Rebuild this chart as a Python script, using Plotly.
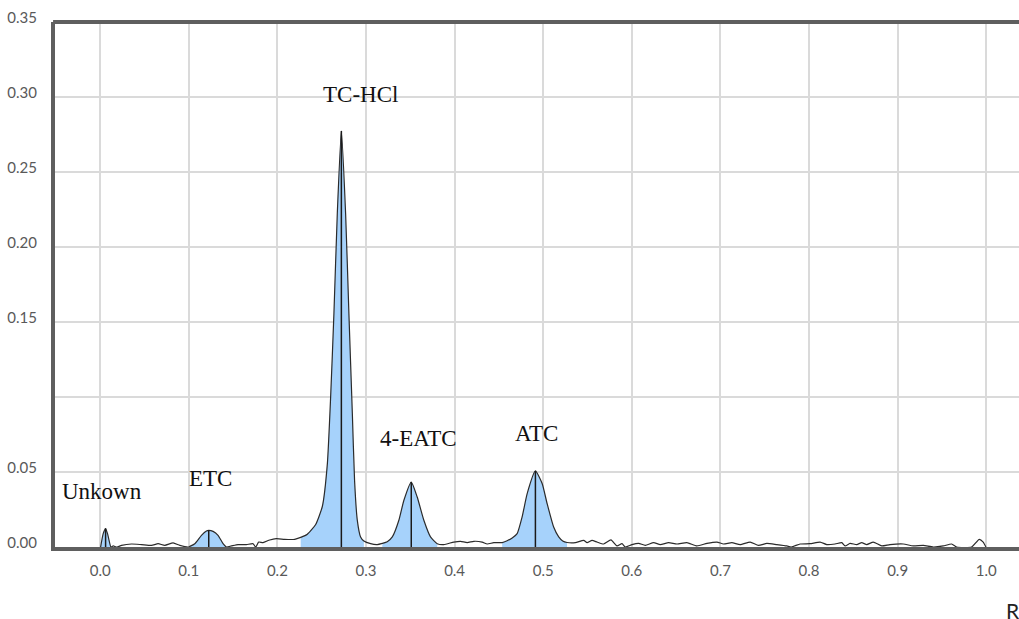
import plotly.graph_objects as go

# Densitogram trace (Rf vs. absorbance units)
rf = [0.0005, 0.0034, 0.0061, 0.0083, 0.0121, 0.0147, 0.0188, 0.0241, 0.0354, 0.0467,
      0.0579, 0.0654, 0.0729, 0.0823, 0.0899, 0.0992, 0.1011, 0.1068, 0.1143, 0.1199,
      0.1225, 0.1274, 0.1330, 0.1387, 0.1425, 0.1481, 0.1556, 0.1650, 0.1725, 0.1755,
      0.1789, 0.1838, 0.1913, 0.1988, 0.2082, 0.2195, 0.2263, 0.2338, 0.2432, 0.2507,
      0.2564, 0.2601, 0.2638, 0.2676, 0.2722, 0.2770, 0.2807, 0.2846, 0.2871, 0.2902,
      0.2939, 0.2976, 0.3052, 0.3127, 0.3184, 0.3240, 0.3297, 0.3371, 0.3427, 0.3511,
      0.3578, 0.3653, 0.3728, 0.3804, 0.3878, 0.3991, 0.4067, 0.4142, 0.4217, 0.4311,
      0.4368, 0.4442, 0.4537, 0.4593, 0.4650, 0.4706, 0.4762, 0.4819, 0.4912, 0.4988,
      0.5044, 0.5118, 0.5175, 0.5220, 0.5269, 0.5363, 0.5457, 0.5495, 0.5551, 0.5608,
      0.5682, 0.5765, 0.5833, 0.5889, 0.5927, 0.6002, 0.6077, 0.6152, 0.6246, 0.6321,
      0.6415, 0.6510, 0.6622, 0.6735, 0.6848, 0.6961, 0.7035, 0.7129, 0.7223, 0.7336,
      0.7429, 0.7524, 0.7637, 0.7750, 0.7800, 0.7900, 0.8012, 0.8125, 0.8201, 0.8294,
      0.8370, 0.8407, 0.8463, 0.8539, 0.8595, 0.8652, 0.8726, 0.8821, 0.8914, 0.9064,
      0.9177, 0.9290, 0.9403, 0.9515, 0.9610, 0.9666, 0.9835, 0.9921, 0.9966, 0.9997]
au = [0.0000, 0.0089, 0.0123, 0.0089, 0.0000, 0.0007, 0.0000, 0.0011, 0.0020, 0.0016,
      0.0011, 0.0022, 0.0011, 0.0027, 0.0011, 0.0000, 0.0004, 0.0022, 0.0078, 0.0107,
      0.0111, 0.0104, 0.0078, 0.0022, 0.0000, 0.0007, 0.0016, 0.0016, 0.0022, 0.0000,
      0.0033, 0.0029, 0.0047, 0.0056, 0.0051, 0.0051, 0.0064, 0.0085, 0.0150, 0.0270,
      0.0556, 0.1000, 0.1556, 0.2222, 0.2773, 0.2222, 0.1556, 0.0889, 0.0444, 0.0178,
      0.0067, 0.0040, 0.0022, 0.0016, 0.0024, 0.0035, 0.0067, 0.0178, 0.0310, 0.0433,
      0.0333, 0.0178, 0.0067, 0.0022, 0.0016, 0.0033, 0.0038, 0.0029, 0.0038, 0.0033,
      0.0020, 0.0029, 0.0029, 0.0042, 0.0060, 0.0089, 0.0200, 0.0356, 0.0507, 0.0423,
      0.0290, 0.0133, 0.0067, 0.0040, 0.0030, 0.0029, 0.0044, 0.0029, 0.0044, 0.0033,
      0.0020, 0.0047, 0.0007, 0.0022, 0.0000, 0.0016, 0.0024, 0.0011, 0.0029, 0.0016,
      0.0029, 0.0020, 0.0029, 0.0007, 0.0024, 0.0033, 0.0020, 0.0029, 0.0016, 0.0033,
      0.0011, 0.0024, 0.0016, 0.0007, 0.0000, 0.0020, 0.0022, 0.0033, 0.0016, 0.0020,
      0.0029, 0.0007, 0.0024, 0.0016, 0.0029, 0.0016, 0.0033, 0.0007, 0.0016, 0.0020,
      0.0007, 0.0011, 0.0000, 0.0007, 0.0020, 0.0000, 0.0000, 0.0051, 0.0033, 0.0000]

# Peaks
peak_names = ["Unkown", "ETC", "TC-HCl", "4-EATC", "ATC"]
peak_apex_rf = [0.0061, 0.1225, 0.2722, 0.3511, 0.4912]
peak_apex_au = [0.0123, 0.0111, 0.2773, 0.0433, 0.0507]
peak_start = [0.0005, 0.1011, 0.2263, 0.3184, 0.4537]
peak_end = [0.0121, 0.1425, 0.2976, 0.3804, 0.5269]
label_rf = [0.002, 0.125, 0.294, 0.359, 0.492]
label_au = [0.0367, 0.0458, 0.302, 0.0725, 0.0755]

y_tickvals = [0.00, 0.05, 0.10, 0.15, 0.20, 0.25, 0.30, 0.35]
y_ticktext = ["0.00", "0.05", "", "0.15", "0.20", "0.25", "0.30", "0.35"]

FILL = "#a6d2fb"
SHAPE = "spline"
SMOOTH = 0.5
fig = go.Figure()

for s, e in zip(peak_start, peak_end):
    xs = [x for x in rf if s <= x <= e]
    ys = [y for x, y in zip(rf, au) if s <= x <= e]
    fig.add_trace(go.Scatter(x=xs, y=ys, mode="lines", fill="tozeroy",
                             fillcolor=FILL,
                             line=dict(width=0, color=FILL, shape=SHAPE, smoothing=SMOOTH),
                             hoverinfo="skip", showlegend=False))

fig.add_trace(go.Scatter(x=rf, y=au, mode="lines",
                         line=dict(color="#2b2b2b", width=1.2, shape=SHAPE, smoothing=SMOOTH),
                         showlegend=False))

vx, vy = [], []
for x, y in zip(peak_apex_rf, peak_apex_au):
    vx += [x, x, None]
    vy += [0, y, None]
fig.add_trace(go.Scatter(x=vx, y=vy, mode="lines",
                         line=dict(color="#1a1a1a", width=1.5), showlegend=False))

for name, x, y in zip(peak_names, label_rf, label_au):
    fig.add_annotation(x=x, y=y, text=name, showarrow=False,
                       font=dict(family="Liberation Serif", size=23, color="#111"))

fig.add_annotation(xref="paper", yref="paper", x=0.984, y=-0.12, text="Rf",
                   showarrow=False, xanchor="left", yanchor="middle",
                   font=dict(family="Lato", size=21, color="#222"))

fig.add_shape(type="line", xref="paper", yref="paper", x0=-0.002, x1=1, y0=1, y1=1,
              line=dict(color="#5f5f5f", width=4))

fig.update_layout(
    width=1019, height=619,
    margin=dict(l=55, r=0, t=22, b=72),
    paper_bgcolor="white", plot_bgcolor="white",
    xaxis=dict(range=[-0.051, 1.037], tick0=0, dtick=0.1, tickformat=".1f",
               showgrid=True, gridcolor="#dadada", gridwidth=2, zeroline=False,
               showline=True, linecolor="#5f5f5f", linewidth=4, ticks="",
               ticklabelstandoff=7,
               tickfont=dict(family="Lato", size=15, color="#595959")),
    yaxis=dict(range=[0, 0.35], tickvals=y_tickvals, ticktext=y_ticktext,
               showgrid=True, gridcolor="#dadada", gridwidth=2, zeroline=False,
               showline=True, linecolor="#5f5f5f", linewidth=4, ticks="",
               ticklabelstandoff=11, ticklabelshift=-4,
               tickfont=dict(family="Lato", size=15, color="#595959")),
)

fig.write_html("out.html")
